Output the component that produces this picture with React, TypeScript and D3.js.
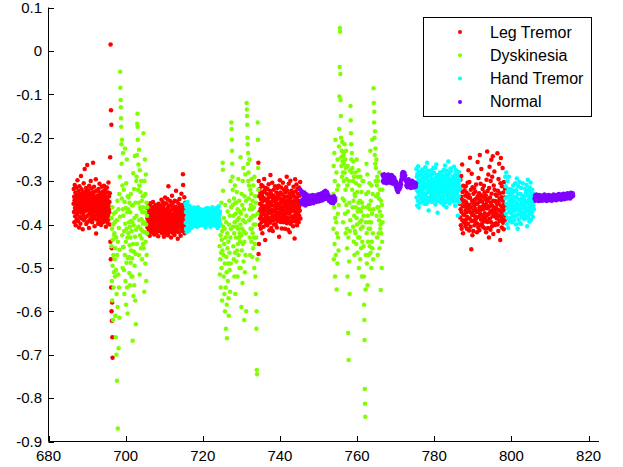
import * as d3 from "d3";

// class names / colours (legend order)
const classNames = ["Leg Tremor", "Dyskinesia", "Hand Tremor", "Normal"];
const classColors = ["#ff0000", "#80ff00", "#00ffff", "#8000ff"];

const xTicks = [680, 700, 720, 740, 760, 780, 800, 820];
const yTicks = [0.1, 0, -0.1, -0.2, -0.3, -0.4, -0.5, -0.6, -0.7, -0.8, -0.9];

// sampled values (x1000), evenly spaced in time across each segment
const legTremor1 = [-352,-318,-371,-336,-395,-344,-309,-362,-381,-327,-348,-402,-339,-366,-315,-357,-388,-331,-345,-376,
  -298,-361,-334,-392,-350,-322,-369,-341,-407,-355,-312,-383,-346,-329,-364,-398,-337,-352,-288,-373,
  -343,-319,-386,-358,-332,-367,-349,-411,-326,-354,-378,-341,-305,-363,-390,-335,-347,-272,-370,-356,
  -325,-384,-344,-360,-316,-399,-338,-351,-367,-330,-263,-345,-380,-357,-321,-393,-342,-365,-336,-408,
  -311,-353,-374,-328,-346,-389,-359,-334,-300,-371,-348,-383,-317,-362,-340,-395,-355,-326,-377,-344,
  -258,-366,-332,-351,-387,-313,-369,-343,-404,-357,-324,-380,-338,-361,-296,-349,-421,-372,
  -341,-367,-322,-389,-354,-333,-376,-347,-398,-361,-318,-384,-339,-370,-352,-306,-393,-345,-327,-364,
  -380,-336,-358,-401,-329,-372,-349,-313,-387,-357,-340,-366,-324,-395,-351,-378,-334,-360,-311,-383,
  -346,-369,-330,-391,-356,-320,-374,-343,-405,-362,-337,-385,-350,-315,-368,-342,-396,-359,-326,-379,
  -353,-303,-388,-365,-335,-372,-348,-400,-328,-361,
  -245,-440,15,-480,-137,-545,-170,-600,-455,-622,-580,-660,-707];
const dyskinesia1 = [-450,-385,-530,-410,-575,-360,-495,-435,-620,-400,-470,-545,-375,-510,-425,
  -420,-480,-395,-520,-610,-455,-372,-660,-505,-430,-700,-560,-390,-760,-470,-345,-590,-870,-440,-515,
  -365,-685,-408,-545,-330,-615,-458,-290,-382,-48,-85,-113,-130,-155,-175,-215,-260,-340,-205,-425,-310,-500,-365,-235,-452,
  -380,-452,-320,-505,-415,-560,-348,-470,-225,-398,-530,-362,-440,-585,-305,-488,-410,-250,-545,-372,-430,-605,-335,-478,
  -365,-420,-338,-475,-395,-512,-350,-448,-405,-540,-372,-430,-488,-330,-460,-392,-520,-415,-355,-478,
  -395,-520,-668,-356,-445,-282,-565,-402,-462,-318,-540,-385,-495,-242,-428,-575,-350,-468,-630,-412,-300,
  -380,-290,-445,-240,-168,-145,-175,-205,-320,-405,-262,-350,-470,-228,-390,-310,-515,-275,-425,-360,
  -325,-410,-365,-455,-300,-388,-432,-345,-480,-372,-415,-335,-398,-445,-360,
  -190,-455,-335,-395,-555,-300,-418,-250,-372,-490,-330,-440,-285,-400,-530,-350,-470,-380,-420,-360];
const legTremor2 = [-385,-407,-362,-398,-374,-421,-391,-356,-412,-380,-403,-367,-395,-426,-377,-409,-351,-389,-416,-371,
  -400,-383,-359,-411,-392,-376,-418,-365,-404,-387,-348,-397,-413,-379,-402,-369,-423,-390,-358,-408,
  -381,-396,-372,-414,-355,-393,-406,-364,-388,-419,-375,-401,-384,-361,-410,-394,-370,-427,-386,-352,
  -399,-378,-415,-366,-405,-389,-373,-412,-357,-397,
  -392,-365,-410,-378,-343,-401,-386,-420,-358,-395,-372,-415,-349,-388,-404,-362,-380,-428,-397,-354,
  -411,-376,-390,-338,-407,-369,-393,-421,-382,-351,-399,-414,-366,-387,-403,-341,-378,-396,-425,-360,
  -312,-389,-408,-373,-394,-357,-417,-384,-400,-346,-381,-412,-368,-392,-430,-355,-405,-377,-389,-334,
  -398,-419,-364,-386,-409,-350,-395,-375,-413,-361,-402,-383,-424,-345,-391,-371,-406,-359,-397,-380,
  -322,-416,-367,-399,-385,-347,-410,-374,-393,-433,-363,-388,-404,-352,-379,-418,-369,-396,-341,-386,
  -407,-358,-392,-376,-426,-364,-401,-383,-329,-411,-370,-394,-355,-387,-415,-360,-284,-309,-399,-378,
  -372,-405,-388,-337,-397,-420,-366,-391,-350,-383];
const handTremor1 = [-352,-396,-371,-410,-360,-385,-418,-366,-392,-348,-379,-405,-363,-388,-372,-414,-357,-397,-381,-368,
  -401,-375,-390,-362,-408,-383,-370,-395,-378,-364,-399,-386,-373,-392,-368,-404,-380,-361,-389,-376,
  -378,-394,-367,-401,-385,-372,-398,-363,-389,-376,-405,-381,-369,-392,-360,-396,-383,-374,-403,-366,
  -396,-370,-384,-365,-402,-379,-391,-372,-387,-398,-366,-382,-375,-393,-369,-401,-384,-371,-389,-377,
  -387,-379,-399,-371,-391,-364,-385,-407,-375,-393,-368,-382,-400,-373,-389,-362,-395,-380,-370,-397,
  -394,-363,-386,-380,-397,-372,-390,-368,-405,-381,-375,-392,-366,-399,-383,-371,-388,-360,-395,-378,
  -384,-366,-390,-377,-402,-369,-386,-374,-394,-381,
  -402,-369,-387,-374,-393,-362,-398,-380,-371,-408,-365,-389,-377,-396,-358,-384,-403,-370,-391,-376];
const dyskinesia2 = [-395,-450,-515,-370,-480,-425,-545,-400,-465,-350,-500,-435,-575,-415,-460,
  -258,-274,-322,-405,-470,-520,-385,-445,-560,-410,-490,-600,-355,-430,-545,-640,-395,-475,-510,-585,
  -662,-420,-455,-370,-530,-490,-440,-570,-610,-400,-345,-465,-505,-380,-555,-430,-300,-490,-410,-360,
  -165,-180,-205,-230,-260,-290,-320,-355,-405,-450,-380,-480,-340,-420,-520,-395,-310,-465,-560,-350,
  -375,-430,-350,-485,-405,-325,-460,-390,-520,-365,-445,-410,-295,-470,-385,-430,-345,-500,-420,-370,
  -440,-400,-245,-500,-375,-425,-590,-330,-460,-410,-355,-535,-300,-445,-390,-270,-485,-415,-365,-620,
  -440,-335,-510,-395,-285,-470,-420,-345,-600,-380,
  -120,-135,-150,-170,-200,-215,-260,-235,-300,-280,-340,-310,-390,-250,-430,-365,-470,-320,-410,-355,
  -385,-330,-440,-295,-410,-365,-475,-345,-420,-380,-455,-310,-400,-360,-430,
  -500,-290,-380,-445,-335,-520,-400,-560,-350,-430,-640,-600,-735,-745,-480,-375,-165,-205,-270,-320];
const legTremor3 = [-258,-468,-300,-445,-335,-372,-318,-401,-352,-386,-327,-364,-410,-341,-379,-309,-395,-356,-332,-370,
  -420,-347,-312,-388,-362,-325,-405,-339,-376,-295,-358,-392,-321,-367,-436,-344,-383,-316,-361,-399,
  -344,-381,-329,-367,-402,-353,-318,-375,-390,-339,-362,-307,-385,-348,-371,-413,-334,-358,-396,-323,
  -286,-350,-374,-329,-408,-355,-337,-390,-366,-304,-381,-346,-415,-333,-369,-391,-320,-357,-400,-342,
  -369,-346,-388,-312,-377,-355,-400,-337,-364,-383,-326,-351,-407,-342,-373,-316,-392,-359,-331,-379,
  -377,-311,-363,-428,-338,-385,-354,-298,-372,-326,-394,-349,-365,-315,-388,-343,-409,-360,-331,-378,
  -349,-366,-304,-386,-341,-372,-395,-320,-357,-380,-336,-368,-410,-345,-326,-389,-352,-375,-314,-361,
  -353,-290,-397,-336,-371,-322,-384,-358,-412,-345,-367,-306,-391,-351,-330,-375,-418,-340,-362,-299,
  -398,-338,-370,-347,-384,-322,-363,-393,-333,-356,
  -382,-348,-327,-404,-366,-313,-387,-355,-335,-379,-432,-344,-370,-296,-393,-359,-324,-383,-350,-308,
  -376,-339,-402,-363,-318,-389,-352,-330,-372,-345,-395,-361,-315,-380,-356,-334,-368,-348,-302,-386];
const normal1 = [-320,-347,-328,-352,-324,-343,-350,-331,-354,-336,-326,-348,-339,-356,-330,-345,-351,-335,-347,-340,
  -353,-333,-349,-342,-337,-352,-334,-346,-350,-336,-342,-348,-332,-351,-340,-335,-347,-339,-344,-333,
  -348,-337,-342,-334,-345,-331,-340,-347,-335,-343,-330,-339,-345,-334,-342,-328,-337,-344,-332,-339,
  -325,-335,-329,-341,-322,-333,-327,-339,-325,-336,-330,-341,-333,-345,-336,-343,-347,-338,-345,-350,
  -340,-348,-337,-346,-351,-341,-335,-347,-339,-345];
const dyskinesia3 = [-330,-410,-265,-480,-360,-235,-445,-300,-520,-385,-205,-470,-340,-395,-280,-550,-420,-320,-490,-250,
  -375,-430,-310,-460,-355,
  -220,-180,-105,-37,53,44,-53,-113,-150,-200,-245,-265,-230,-290,-210,-255,-340,-280,-395,-240,
  -235,-300,-260,-345,-215,-280,-375,-250,-320,-420,-270,-230,-355,-295,-410,
  -455,-310,-520,-265,-370,-650,-430,-712,-300,-485,-350,-560,-415,-275,-390,
  -127,-160,-190,-215,-250,-280,-235,-320,-270,-360,-300,-405,-255,-345,-440,-290,-380,-470,-330,-415,
  -335,-280,-420,-360,-305,-445,-385,-250,-400,-325,-465,-370,-290,-430,-350,
  -275,-500,-365,-310,-430,-395,-345,-480,-290,-410,-370,-455,-325,-390,-520,-350,-440,-300,-405,-360,
  -300,-380,-450,-520,-585,-620,-666,-779,-813,-843,-550,-470,-395,-330,-260,-420,-490,-360,-285,-540,
  -380,-440,-325,-410,-470,-355,-395,-305,-450,-365,
  -410,-230,-465,-345,-395,-500,-310,-440,-375,-205,-455,-330,-420,-480,-365,
  -86,-120,-165,-140,-200,-240,-185,-260,-225,-300,-270,-335,-250,-380,-310,-430,-290,-360,-470,-330,
  -300,-360,-420,-340,-390,-280,-455,-370,-320,-410,
  -400,-551,-345,-420,-380,-500,-355,-440,-320,-395];
const normal2 = [-286,-300,-290,-303,-284,-296,-302,-288,-298,-292,-305,-287,-299,-294,-301,-285,-297,-303,-291,-299,
  -289,-304,-295,-300,-286,-298,-293,-306,-290,-301,-296,-292,-303,-298,
  -305,-312,-302,-318,-309,-322,-313,-325,-316,-320,-310,-318,-306,-314,-302,-308,
  -296,-288,-282,-292,-279,-286,-283,-290,-281,-294,-287,-298,
  -300,-310,-298,-306,-314,-302,-309,-296,-312,-304,-300,-311,-306,-316,-303,-308,-299,-313,-305,-310,
  -302,-315,-307,-311,-304,-309,-313,-306];
const handTremor2 = [-305,-272,-338,-290,-321,-356,-283,-312,-345,-266,-327,-298,-361,-315,-279,-334,-302,-350,-287,-323,
  -298,-325,-281,-340,-309,-287,-334,-316,-273,-347,-302,-320,-291,-338,-313,-278,-329,-305,-352,-294,
  -295,-342,-268,-316,-331,-284,-307,-352,-293,-326,-258,-339,-311,-276,-348,-300,-320,-368,-289,-314,
  -318,-284,-343,-307,-326,-289,-336,-300,-315,-275,-331,-311,-348,-296,-322,-283,-339,-304,-317,-269,
  -333,-281,-305,-344,-297,-318,-270,-329,-354,-292,-310,-337,-262,-323,-301,-346,-286,-315,-373,-296,
  -327,-292,-345,-308,-321,-286,-333,-301,-314,-280,-342,-310,-324,-295,-350,-303,-319,-288,-337,-306,
  -327,-278,-308,-341,-290,-319,-355,-274,-312,-334,-298,-325,-264,-349,-306,-285,-330,-317,-360,-293,
  -276,-322,-303,-343,-288,-313,-336,-255,-309,-328,-295,-351,-282,-320,-340,-299,-314,-271,-332,-307,
  -276,-330,-312,-297,-344,-318,-290,-328,-305,-335,
  -347,-291,-324,-267,-311,-338,-296,-319,-357,-284,-304,-329,-275,-316,-345,-300,-326,-287,-341,-310,
  -380,-294,-322,-305,-335,-279,-313,-349,-297,-318];
const legTremor4 = [-352,-318,-384,-297,-365,-402,-336,-288,-371,-410,-343,-262,-390,-325,-358,-420,-311,-377,-348,-395,
  -345,-378,-321,-396,-358,-334,-404,-367,-312,-389,-349,-372,-327,-410,-355,-383,-304,-362,-398,-338,
  -275,-331,-367,-414,-302,-355,-386,-246,-339,-372,-405,-320,-361,-457,-392,-283,-346,-378,-425,-314,
  -376,-350,-415,-329,-368,-391,-316,-357,-402,-343,-381,-324,-364,-395,-352,-308,-386,-340,-371,-418,
  -352,-398,-256,-335,-369,-407,-293,-349,-382,-328,-413,-360,-240,-375,-342,-401,-306,-366,-389,-272,
  -333,-360,-399,-347,-379,-318,-365,-406,-336,-384,-354,-311,-393,-363,-326,-374,-409,-341,-357,-388,
  -333,-418,-355,-297,-380,-347,-232,-394,-323,-363,-408,-285,-341,-376,-430,-316,-358,-267,-387,-338,
  -371,-412,-300,-350,-395,-251,-329,-368,-404,-290,-357,-381,-243,-345,-422,-374,-310,-363,-399,-278,
  -320,-369,-401,-346,-382,-331,-361,-397,-349,-376,
  -334,-386,-353,-236,-400,-322,-366,-415,-295,-348,-379,-260,-341,-392,-328,-369,-436,-305,-356,-247,
  -383,-337,-373,-407,-312,-361,-389,-270,-345,-396,-326,-367,-411,-302,-354,-380,-338,-390,-318,-362];
const handTremor3 = [-290,-340,-312,-375,-280,-352,-398,-325,-363,-300,-385,-336,-408,-318,-357,-290,-372,-345,-392,-328,
  -332,-367,-348,-385,-319,-356,-374,-340,-395,-327,-362,-351,-380,-310,-345,-369,-336,-390,-358,-323,
  -366,-305,-381,-349,-400,-321,-360,-338,-294,-377,-353,-410,-330,-368,-312,-388,-343,-359,-302,-396,
  -377,-343,-365,-330,-399,-354,-316,-372,-347,-383,-338,-360,-305,-349,-379,-334,-363,-387,-342,-357,
  -335,-371,-318,-354,-386,-326,-364,-309,-379,-347,-404,-332,-362,-297,-384,-350,-322,-370,-341,-393,
  -315,-358,-376,-336,-303,-366,-389,-328,-352,-344,-373,-320,-360,-338,-382,-330,-355,-346,-365,-340];
const normal3 = [-340,-333,-345,-337,-331,-342,-336,-344,-334,-339,-346,-332,-341,-337,-343,-335,-340,-345,-333,-338,
  -342,-336,-344,-331,-339,-343,-335,-341,-346,-334,-338,-342,-332,-340,-336,-344,-337,-333,-341,-339,
  -345,-335,-338,-342,-331,-340,-336,-343,-334,-339,-344,-332,-338,-341,-335,-342,-330,-337,-340,-333,
  -339,-343,-331,-336,-341,-334,-338,-329,-337,-342,-332,-336,-339,-330,-335,-340,-328,-334,-338,-331,
  -336,-329,-340,-333,-327,-337,-331,-335,-328,-334];

// time span of each segment and which class it belongs to
const segments = [
  { cls: 0, from: 686.5, to: 696.6, ys: legTremor1 },
  { cls: 1, from: 696.3, to: 705.6, ys: dyskinesia1 },
  { cls: 0, from: 705.6, to: 715.5, ys: legTremor2 },
  { cls: 2, from: 715.5, to: 724.4, ys: handTremor1 },
  { cls: 1, from: 724.3, to: 734.4, ys: dyskinesia2 },
  { cls: 0, from: 734.4, to: 745.3, ys: legTremor3 },
  { cls: 3, from: 745.3, to: 754.3, ys: normal1 },
  { cls: 1, from: 753.8, to: 766.6, ys: dyskinesia3 },
  { cls: 3, from: 766.6, to: 775.3, ys: normal2 },
  { cls: 2, from: 775.3, to: 786.6, ys: handTremor2 },
  { cls: 0, from: 786.6, to: 798.4, ys: legTremor4 },
  { cls: 2, from: 798.4, to: 805.9, ys: handTremor3 },
  { cls: 3, from: 806.0, to: 816.0, ys: normal3 },
];

const W = 623;
const H = 467;
const font = "'Liberation Sans', Arial, Helvetica, sans-serif";

export default function App() {
  const x = d3.scaleLinear().domain([680, 822.7]).range([48.5, 599]);
  const y = d3.scaleLinear().domain([-0.9, 0.1]).range([441.5, 7.5]);

  // flatten into points, grouped by class so draw order follows gscatter
  const points = classNames.map((_, c) =>
    segments
      .filter((s) => s.cls === c)
      .flatMap((s) => {
        const step = (s.to - s.from) / (s.ys.length - 1);
        return s.ys.map((v, i) => ({ t: s.from + i * step, v: v / 1000 }));
      })
  );

  const yLabel = (v: number) => (Math.abs(v) < 1e-9 ? "0" : v.toFixed(1));

  return (
    <svg width={W} height={H} style={{ position: "absolute", left: 0, top: 0, background: "#fff" }}>
      {points.map((pts, c) => (
        <g key={c} fill={classColors[c]}>
          {pts.map((p, i) => (
            <circle key={i} cx={x(p.t)} cy={y(p.v)} r={2.25} />
          ))}
        </g>
      ))}

      {/* axes */}
      <g stroke="#000" strokeWidth={1} fill="none">
        <line x1={48.5} x2={48.5} y1={7.5} y2={441.5} />
        <line x1={48.5} x2={599} y1={441.5} y2={441.5} />
        {yTicks.map((t) => (
          <line key={t} x1={48.5} x2={54} y1={Math.round(y(t)) + 0.5} y2={Math.round(y(t)) + 0.5} />
        ))}
        {xTicks.map((t) => (
          <line key={t} x1={Math.round(x(t)) + 0.5} x2={Math.round(x(t)) + 0.5} y1={441.5} y2={436} />
        ))}
      </g>
      <g fontFamily={font} fontSize={15} fill="#000">
        {yTicks.map((t) => (
          <text key={t} x={42} y={y(t) + 5.3} textAnchor="end">
            {yLabel(t)}
          </text>
        ))}
        {xTicks.map((t) => (
          <text key={t} x={x(t)} y={461} textAnchor="middle">
            {t}
          </text>
        ))}
      </g>

      {/* legend */}
      <rect x={423.5} y={17.5} width={168} height={99} fill="#fff" stroke="#000" />
      {classNames.map((name, i) => {
        const cy = 32 + i * 23.3;
        return (
          <g key={name}>
            <circle cx={460} cy={cy} r={2} fill={classColors[i]} />
            <text x={490} y={cy + 5.5} fontFamily={font} fontSize={16} fill="#000">
              {name}
            </text>
          </g>
        );
      })}
    </svg>
  );
}
